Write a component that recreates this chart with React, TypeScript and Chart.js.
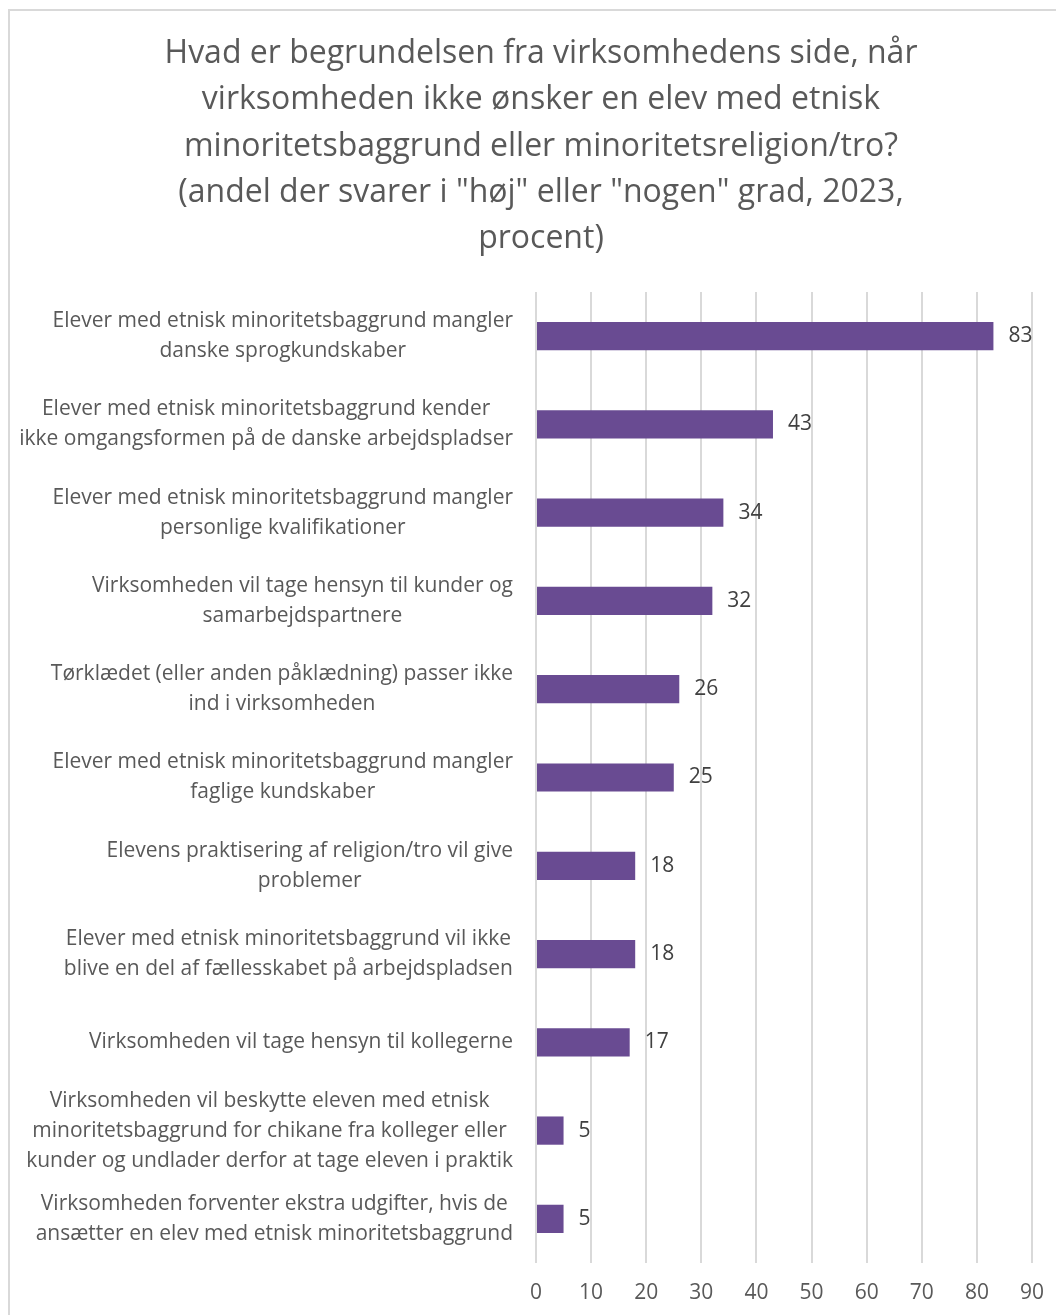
import React, { useEffect, useRef } from "react";
import { Chart, registerables } from "chart.js";

Chart.register(...registerables);

const titleLines: string[] = [
  "Hvad er begrundelsen fra virksomhedens side, når",
  "virksomheden ikke ønsker en elev med etnisk",
  "minoritetsbaggrund eller minoritetsreligion/tro?",
  "(andel der svarer i \"høj\" eller \"nogen\" grad, 2023,",
  "procent)",
];

const categories: string[][] = [
  ["Elever med etnisk minoritetsbaggrund mangler", "danske sprogkundskaber"],
  ["Elever med etnisk minoritetsbaggrund kender", "ikke omgangsformen på de danske arbejdspladser"],
  ["Elever med etnisk minoritetsbaggrund mangler", "personlige kvalifikationer"],
  ["Virksomheden vil tage hensyn til kunder og", "samarbejdspartnere"],
  ["Tørklædet (eller anden påklædning) passer ikke", "ind i virksomheden"],
  ["Elever med etnisk minoritetsbaggrund mangler", "faglige kundskaber"],
  ["Elevens praktisering af religion/tro vil give", "problemer"],
  ["Elever med etnisk minoritetsbaggrund vil ikke", "blive en del af fællesskabet på arbejdspladsen"],
  ["Virksomheden vil tage hensyn til kollegerne"],
  [
    "Virksomheden vil beskytte eleven med etnisk",
    "minoritetsbaggrund for chikane fra kolleger eller",
    "kunder og undlader derfor at tage eleven i praktik",
  ],
  ["Virksomheden forventer ekstra udgifter, hvis de", "ansætter en elev med etnisk minoritetsbaggrund"],
];

const values: number[] = [83, 43, 34, 32, 26, 25, 18, 18, 17, 5, 5];

const xMin = 0;
const xMax = 90;
const xStep = 10;

const FONT = "'Open Sans'";
const TEXT = "#595959";
const VALUE_TEXT = "#404040";
const BAR = "#694b92";

const labelPlugin = {
  id: "customLabels",
  afterDraw(chart: any) {
    const ctx = chart.ctx;
    const yScale = chart.scales.y;
    const area = chart.chartArea;
    ctx.save();
    // title
    ctx.font = `32px ${FONT}`;
    ctx.fillStyle = TEXT;
    ctx.textBaseline = "middle";
    ctx.textAlign = "center";
    const titleCx = 531;
    titleLines.forEach((l, j) => ctx.fillText(l, titleCx, 43 + j * 46.2));

    // category labels
    ctx.font = `21px ${FONT}`;
    const lineH = 30;
    categories.forEach((lines, i) => {
      const y = yScale.getPixelForTick(i);
      const maxW = Math.max(...lines.map((l) => ctx.measureText(l).width));
      const right = area.left - 23;
      const cx = right - maxW / 2;
      const startY = y - ((lines.length - 1) * lineH) / 2;
      lines.forEach((l, j) => ctx.fillText(l, cx, startY + j * lineH));
    });

    // value labels
    ctx.fillStyle = VALUE_TEXT;
    ctx.textAlign = "left";
    const meta = chart.getDatasetMeta(0);
    meta.data.forEach((bar: any, i: number) => {
      ctx.fillText(String(values[i]), bar.x + 15, bar.y);
    });
    ctx.restore();
  },
};

export default function App() {
  const ref = useRef<HTMLCanvasElement | null>(null);

  useEffect(() => {
    if (!ref.current) return;
    const chart = new Chart(ref.current, {
      type: "bar",
      data: {
        labels: categories.map((c) => c.join(" ")),
        datasets: [
          {
            data: values,
            backgroundColor: BAR,
            borderWidth: 0,
            barPercentage: 0.32,
            categoryPercentage: 1,
          },
        ],
      },
      options: {
        indexAxis: "y",
        animation: false,
        responsive: false,
        maintainAspectRatio: false,
        layout: { padding: { left: 0, right: 32, top: 281, bottom: 9 } },
        plugins: {
          legend: { display: false },
          tooltip: { enabled: false },
          title: { display: false },
        },
        scales: {
          x: {
            min: xMin,
            max: xMax,
            ticks: {
              stepSize: xStep,
              color: TEXT,
              font: { family: FONT, size: 21 },
              padding: 17,
            },
            grid: { color: "#d9d9d9", lineWidth: 2, drawTicks: false },
            border: { display: false },
            afterFit: (scale: any) => {
              scale.height = 43;
            },
          },
          y: {
            ticks: { display: false },
            grid: { display: false },
            border: { display: false },
            afterFit: (scale: any) => {
              scale.width = 526;
            },
          },
        },
      },
      plugins: [labelPlugin],
    });
    return () => chart.destroy();
  }, []);

  return (
    <div
      style={{
        position: "relative",
        marginTop: 1,
        width: 1056,
        height: 1306,
        borderTop: "2px solid #d9d9d9",
        borderLeft: "2px solid #d9d9d9",
        boxSizing: "border-box",
      }}
    >
      <div
        style={{
          position: "absolute",
          top: -29,
          left: 0,
          font: "bold 24px 'Liberation Sans'",
          lineHeight: "24px",
          color: "#000",
          whiteSpace: "nowrap",
        }}
      >
        Figur 6
      </div>
      <canvas ref={ref} width={1054} height={1304} style={{ display: "block" }} />
    </div>
  );
}
